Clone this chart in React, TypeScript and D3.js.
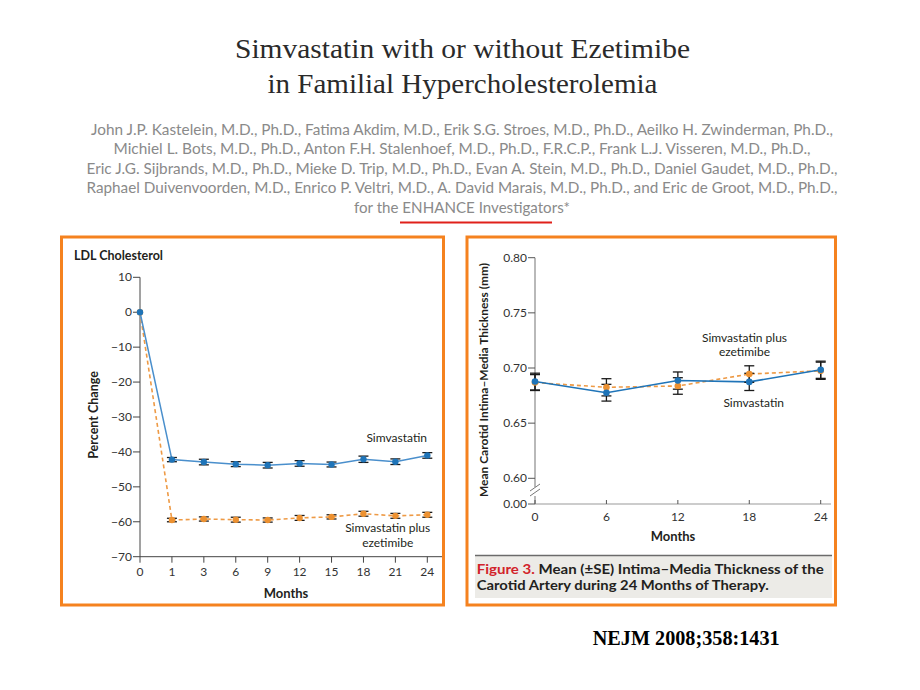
import React from 'react';
import * as d3 from 'd3';

// ---------- Data ----------
const titleLines = ['Simvastatin with or without Ezetimibe', 'in Familial Hypercholesterolemia'];
const titleWidths = [455, 390];
const authorLines = [
  'John J.P. Kastelein, M.D., Ph.D., Fatima Akdim, M.D., Erik S.G. Stroes, M.D., Ph.D., Aeilko H. Zwinderman, Ph.D.,',
  'Michiel L. Bots, M.D., Ph.D., Anton F.H. Stalenhoef, M.D., Ph.D., F.R.C.P., Frank L.J. Visseren, M.D., Ph.D.,',
  'Eric J.G. Sijbrands, M.D., Ph.D., Mieke D. Trip, M.D., Ph.D., Evan A. Stein, M.D., Ph.D., Daniel Gaudet, M.D., Ph.D.,',
  'Raphael Duivenvoorden, M.D., Enrico P. Veltri, M.D., A. David Marais, M.D., Ph.D., and Eric de Groot, M.D., Ph.D.,',
  'for the ENHANCE Investigators*',
];
const authorWidths = [742, 697, 751, 751, 216];

const ldlMonths = ['0', '1', '3', '6', '9', '12', '15', '18', '21', '24'];
const ldlSimva = [0, -42.2, -42.9, -43.5, -43.8, -43.3, -43.6, -42.1, -42.8, -41.0];
const ldlSimvaErr = [0, 0.6, 0.8, 0.7, 0.8, 0.8, 0.7, 0.9, 0.8, 0.8];
const ldlEze = [0, -59.5, -59.2, -59.4, -59.5, -58.9, -58.6, -57.7, -58.3, -58.0];
const ldlEzeErr = [0, 0.5, 0.6, 0.7, 0.6, 0.7, 0.6, 0.7, 0.7, 0.7];
const ldlYTicks = [10, 0, -10, -20, -30, -40, -50, -60, -70];

const imtMonths = [0, 6, 12, 18, 24];
const imtSimva = [0.6877, 0.6776, 0.6886, 0.6874, 0.6984];
const imtSimvaErr = [0.0076, 0.0076, 0.0078, 0.0078, 0.0078];
const imtEze = [0.6868, 0.6825, 0.6837, 0.6945, 0.6975];
const imtEzeErr = [0.0072, 0.0078, 0.0075, 0.0075, 0.0078];
const imtYTicks = [0.6, 0.65, 0.7, 0.75, 0.8];

// ---------- Styles ----------
const SANS = 'Lato, "Noto Sans", sans-serif';
const SERIF = '"Liberation Serif", "Times New Roman", serif';
const ORANGE_BORDER = '#f5821f';
const BLUE = '#1f74b8';
const BLUE_LINE = '#4a8fcc';
const ORANGE = '#ec9131';
const ORANGE_LINE = '#ee9a45';
const INK = '#231f20';

const minus = (v: number) => (v < 0 ? '\u2212' + Math.abs(v) : String(v));

function ErrorBar({ x, y0, y1 }: { x: number; y0: number; y1: number }) {
  return (
    <g stroke="#1a1a1a" strokeWidth={1.3}>
      <line x1={x} x2={x} y1={y0} y2={y1} />
      <line x1={x - 5} x2={x + 5} y1={y0} y2={y0} />
      <line x1={x - 5} x2={x + 5} y1={y1} y2={y1} />
    </g>
  );
}

function LdlChart() {
  const x = d3.scalePoint<string>().domain(ldlMonths).range([140, 427.3]);
  const y = d3.scaleLinear().domain([-70, 10]).range([556.7, 277.3]);
  const blue = ldlMonths.map((m, i) => ({ m, v: ldlSimva[i], e: ldlSimvaErr[i] }));
  const orange = ldlMonths.map((m, i) => ({ m, v: ldlEze[i], e: ldlEzeErr[i] }));
  const line = d3
    .line<{ m: string; v: number }>()
    .x((d) => x(d.m) as number)
    .y((d) => y(d.v));
  const x0 = x.range()[0];
  const yb = y(-70);
  return (
    <g>
      <rect x={61.5} y={237} width={382} height={368} fill="#fff" stroke={ORANGE_BORDER} strokeWidth={3} />
      <text x={74} y={260} fontFamily={SANS} fontWeight={700} fontSize={12.5} fill={INK}>
        LDL Cholesterol
      </text>
      <line x1={x0} x2={x0} y1={y(10)} y2={yb} stroke="#444" strokeWidth={1} />
      {ldlYTicks.map((t) => (
        <g key={t}>
          <line x1={x0 - 7} x2={x0} y1={y(t)} y2={y(t)} stroke="#444" />
          <text x={x0 - 8} y={y(t) + 4} textAnchor="end" fontFamily={SANS} fontSize={12} fill="#333">
            {minus(t)}
          </text>
        </g>
      ))}
      <line x1={x0} x2={442} y1={yb} y2={yb} stroke="#444" strokeWidth={1} />
      {ldlMonths.map((m) => (
        <g key={m}>
          <line x1={x(m)} x2={x(m)} y1={yb} y2={yb + 6} stroke="#444" />
          <text x={x(m)} y={575.7} textAnchor="middle" fontFamily={SANS} fontSize={12} fill="#333">
            {m}
          </text>
        </g>
      ))}
      <text x={286} y={598} textAnchor="middle" fontFamily={SANS} fontWeight={700} fontSize={13} fill={INK}>
        Months
      </text>
      <text
        transform={`translate(97.5,415) rotate(-90)`}
        textAnchor="middle"
        fontFamily={SANS}
        fontWeight={700}
        fontSize={12.5}
        fill={INK}
      >
        Percent Change
      </text>
      <path d={line(orange) || ''} fill="none" stroke={ORANGE_LINE} strokeWidth={1.6} strokeDasharray="4,3" />
      <path d={line(blue) || ''} fill="none" stroke={BLUE_LINE} strokeWidth={1.5} />
      {orange.map((d) =>
        d.e > 0 ? <ErrorBar key={'oe' + d.m} x={x(d.m) as number} y0={y(d.v + d.e)} y1={y(d.v - d.e)} /> : null
      )}
      {blue.map((d) =>
        d.e > 0 ? <ErrorBar key={'be' + d.m} x={x(d.m) as number} y0={y(d.v + d.e)} y1={y(d.v - d.e)} /> : null
      )}
      {orange.map((d) => (
        <circle key={'o' + d.m} cx={x(d.m)} cy={y(d.v)} r={3.2} fill={ORANGE} />
      ))}
      {blue.map((d) => (
        <circle key={'b' + d.m} cx={x(d.m)} cy={y(d.v)} r={3.2} fill={BLUE} />
      ))}
      <text x={396.7} y={442} textAnchor="middle" fontFamily={SANS} fontSize={12} fill={INK}>
        Simvastatin
      </text>
      <text x={387.7} y={531.7} textAnchor="middle" fontFamily={SANS} fontSize={12} fill={INK}>
        Simvastatin plus
      </text>
      <text x={387.7} y={546.7} textAnchor="middle" fontFamily={SANS} fontSize={12} fill={INK}>
        ezetimibe
      </text>
    </g>
  );
}

function ImtChart() {
  const x = d3.scaleLinear().domain([0, 24]).range([535, 820.7]);
  const y = d3.scaleLinear().domain([0.6, 0.8]).range([478.3, 257.7]);
  const yZero = 504;
  const blue = imtMonths.map((m, i) => ({ m, v: imtSimva[i], e: imtSimvaErr[i] }));
  const orange = imtMonths.map((m, i) => ({ m, v: imtEze[i], e: imtEzeErr[i] }));
  const line = d3
    .line<{ m: number; v: number }>()
    .x((d) => x(d.m))
    .y((d) => y(d.v));
  const x0 = x(0);
  return (
    <g>
      <rect x={467} y={237} width={368.5} height={368} fill="#fff" stroke={ORANGE_BORDER} strokeWidth={3} />
      <line x1={x0} x2={x0} y1={y(0.8)} y2={487} stroke="#8a8a8a" strokeWidth={1.2} />
      <line x1={x0} x2={x0} y1={496} y2={yZero} stroke="#8a8a8a" strokeWidth={1.2} />
      <line x1={530} x2={540} y1={491} y2={484} stroke="#777" strokeWidth={1} />
      <line x1={530} x2={540} y1={496} y2={489} stroke="#777" strokeWidth={1} />
      {imtYTicks.map((t) => (
        <g key={t}>
          <line x1={x0 - 7} x2={x0} y1={y(t)} y2={y(t)} stroke="#555" />
          <text x={x0 - 8} y={y(t) + 4} textAnchor="end" fontFamily={SANS} fontSize={12} fill="#333">
            {d3.format('.2f')(t)}
          </text>
        </g>
      ))}
      <line x1={x0 - 7} x2={x0} y1={yZero} y2={yZero} stroke="#555" />
      <text x={x0 - 8} y={yZero + 4} textAnchor="end" fontFamily={SANS} fontSize={12} fill="#333">
        {d3.format('.2f')(0)}
      </text>
      <line x1={x0} x2={831} y1={yZero} y2={yZero} stroke="#9a9a9a" strokeWidth={1.2} />
      {imtMonths.map((m) => (
        <g key={m}>
          <line x1={x(m)} x2={x(m)} y1={yZero} y2={yZero - 4} stroke="#555" />
          <text x={x(m)} y={521} textAnchor="middle" fontFamily={SANS} fontSize={12} fill="#333">
            {m}
          </text>
        </g>
      ))}
      <text x={673} y={541} textAnchor="middle" fontFamily={SANS} fontWeight={700} fontSize={13} fill={INK}>
        Months
      </text>
      <text
        transform={`translate(488,380) rotate(-90)`}
        textAnchor="middle"
        fontFamily={SANS}
        fontWeight={700}
        fontSize={11.5}
        fill={INK}
        textLength={234}
        lengthAdjust="spacingAndGlyphs"
      >
        Mean Carotid Intima–Media Thickness (mm)
      </text>
      <path d={line(orange) || ''} fill="none" stroke={ORANGE_LINE} strokeWidth={1.6} strokeDasharray="4,3" />
      <path d={line(blue) || ''} fill="none" stroke={BLUE} strokeWidth={1.6} />
      {orange.map((d) => (
        <ErrorBar key={'oe' + d.m} x={x(d.m)} y0={y(d.v + d.e)} y1={y(d.v - d.e)} />
      ))}
      {blue.map((d) => (
        <ErrorBar key={'be' + d.m} x={x(d.m)} y0={y(d.v + d.e)} y1={y(d.v - d.e)} />
      ))}
      {orange.map((d) => (
        <circle key={'o' + d.m} cx={x(d.m)} cy={y(d.v)} r={3.3} fill={ORANGE} />
      ))}
      {blue.map((d) => (
        <circle key={'b' + d.m} cx={x(d.m)} cy={y(d.v)} r={3.3} fill={BLUE} />
      ))}
      <text x={744.5} y={342.3} textAnchor="middle" fontFamily={SANS} fontSize={12} fill={INK}>
        Simvastatin plus
      </text>
      <text x={744.5} y={355.7} textAnchor="middle" fontFamily={SANS} fontSize={12} fill={INK}>
        ezetimibe
      </text>
      <text x={753.7} y={406.7} textAnchor="middle" fontFamily={SANS} fontSize={12} fill={INK}>
        Simvastatin
      </text>
      <rect x={475} y={556} width={357} height={42} fill="#ecebe7" />
      <line x1={475} x2={832} y1={555.5} y2={555.5} stroke="#6b6b6b" strokeWidth={1.5} />
      <text x={476.7} y={574.3} fontFamily={SANS} fontWeight={700} fontSize={12.5} fill={INK} textLength={347} lengthAdjust="spacingAndGlyphs">
        <tspan fill="#d2232a">Figure 3.</tspan> Mean (±SE) Intima–Media Thickness of the
      </text>
      <text x={476.7} y={590} fontFamily={SANS} fontWeight={700} fontSize={12.5} fill={INK} textLength={292} lengthAdjust="spacingAndGlyphs">
        Carotid Artery during 24 Months of Therapy.
      </text>
    </g>
  );
}

export default function App() {
  return (
    <svg
      width={920}
      height={690}
      viewBox="0 0 920 690"
      style={{ position: 'absolute', left: 0, top: 0, background: '#fff' }}
    >
      <rect x={0} y={0} width={920} height={690} fill="#fff" />
      {titleLines.map((t, i) => (
        <text
          key={t}
          x={462.5}
          y={58 + i * 35}
          textAnchor="middle"
          fontFamily={SERIF}
          fontSize={28}
          fill="#2a2a2a"
          textLength={titleWidths[i]}
          lengthAdjust="spacingAndGlyphs"
        >
          {t}
        </text>
      ))}
      {authorLines.map((t, i) => (
        <text
          key={i}
          x={462}
          y={134.5 + i * 19.6}
          textAnchor="middle"
          fontFamily={SANS}
          fontSize={16}
          fill="#8a8a8a"
          textLength={authorWidths[i]}
          lengthAdjust="spacingAndGlyphs"
        >
          {t}
        </text>
      ))}
      <line x1={400} x2={552} y1={222.5} y2={222.5} stroke="#e0201a" strokeWidth={2} />
      <LdlChart />
      <ImtChart />
      <text x={592.7} y={645} fontFamily={SERIF} fontWeight={700} fontSize={20} fill="#000" textLength={187} lengthAdjust="spacingAndGlyphs">
        NEJM 2008;358:1431
      </text>
    </svg>
  );
}
